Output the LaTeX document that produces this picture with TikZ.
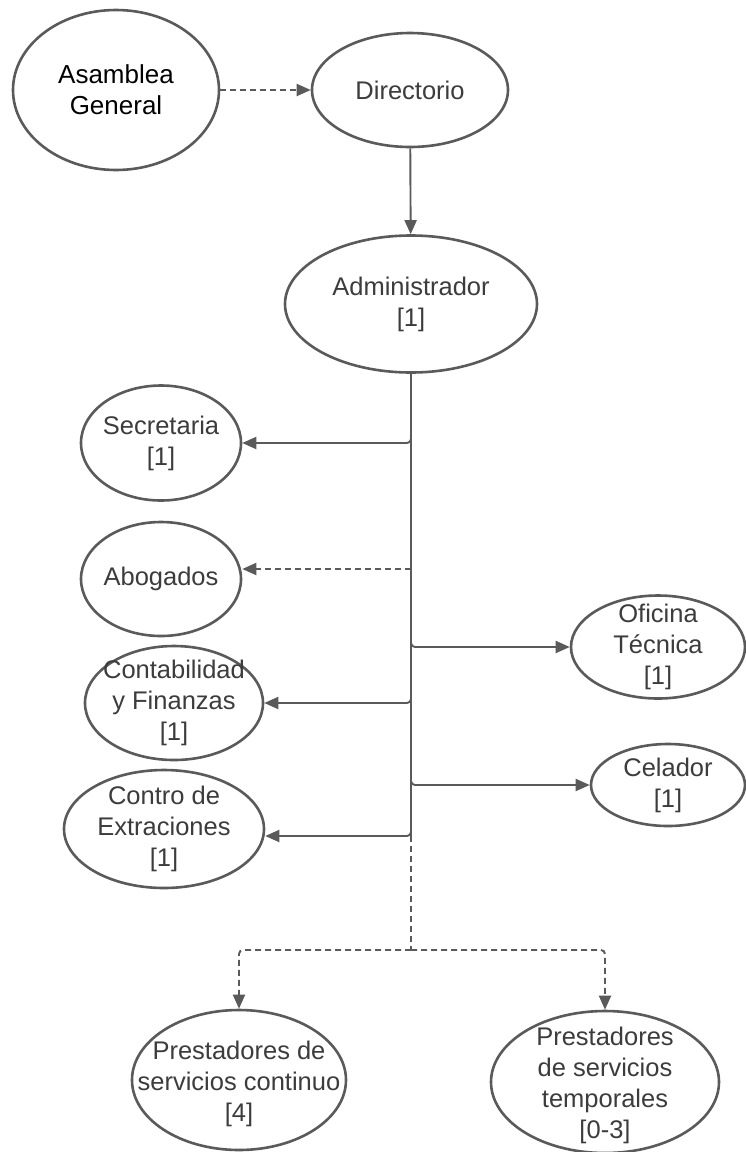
\documentclass[tikz,border=0pt]{standalone}
\usepackage{fontspec}
\setmainfont{Liberation Sans}
\usetikzlibrary{arrows.meta,shapes.geometric}
\definecolor{linegray}{HTML}{5A5A5A}
\definecolor{textgray}{HTML}{3C3C3C}
\tikzset{
  unit/.style={ellipse, draw=linegray, line width=2.6pt, inner sep=0pt},
  txt/.style={inner sep=0pt, align=center, text=textgray, font=\fontsize{25.5}{31}\selectfont},
  conn/.style={draw=linegray, line width=1.9pt, -{Triangle[length=14pt,width=12pt]}},
  dconn/.style={conn, dash pattern=on 6pt off 4pt},
}
\begin{document}
\begin{tikzpicture}[x=1pt,y=-1pt]
\useasboundingbox (0,0) rectangle (746,1152);
\fill[white] (0,0) rectangle (746,1152);
% shapes
\node[unit, minimum width=206pt, minimum height=160pt] (asam) at (116,90) {};
\node[unit, minimum width=196pt, minimum height=114pt] (dir) at (410,90) {};
\node[unit, minimum width=252pt, minimum height=137pt] (adm) at (411,304) {};
\node[unit, minimum width=160pt, minimum height=115pt] (sec) at (161,443) {};
\node[unit, minimum width=160pt, minimum height=114pt] (abo) at (161,579) {};
\node[unit, minimum width=174pt, minimum height=103pt] (ofi) at (658,647) {};
\node[unit, minimum width=178pt, minimum height=114pt] (cont) at (174,703) {};
\node[unit, minimum width=154pt, minimum height=82pt] (cel) at (668,785) {};
\node[unit, minimum width=200pt, minimum height=118pt] (contro) at (164,829) {};
\node[unit, minimum width=214pt, minimum height=140pt] (pc) at (239,1080) {};
\node[unit, minimum width=228pt, minimum height=142pt] (pt) at (605,1082) {};
% texts
\node[txt, text=black, font=\fontsize{26}{31}\selectfont] (asamT) at (asam) {Asamblea\\General};
\node[txt] (dirT) at (dir) {Directorio};
\node[txt] (admT) at (adm) {Administrador\\{[1]}};
\node[txt] (secT) at (sec) {Secretaria\\{[1]}};
\node[txt] (aboT) at (abo) {Abogados};
\node[txt] (ofiT) at (ofi) {Oficina\\T\'ecnica\\{[1]}};
\node[txt] (contT) at (cont) {Contabilidad\\y Finanzas\\{[1]}};
\node[txt] (celT) at (cel) {Celador\\{[1]}};
\node[txt] (controT) at (contro) {Contro de\\Extraciones\\{[1]}};
\node[txt] (pcT) at ([yshift=-4pt]pc.center) {Prestadores de\\servicios continuo\\{[4]}};
\node[txt] (ptT) at ([yshift=-3pt]pt.center) {Prestadores\\de servicios\\temporales\\{[0-3]}};
% coordinates on trunk
\coordinate (tabo) at (411,569);
\coordinate (tcontro) at (411,836);
\coordinate (split) at (411,950);
% connectors
\draw[dconn] (asam) -- (dir);
\draw[conn] (dir) -- (adm);
\draw[conn, rounded corners=4pt] (adm.south) |- (sec.east);
\draw[draw=linegray, line width=1.9pt] (adm.south) -- (tcontro);
\draw[dconn] (tabo) -- (tabo -| abo.east);
\draw[conn, rounded corners=4pt] (adm.south) |- (ofi.west);
\draw[conn, rounded corners=4pt] (adm.south) |- (cont.east);
\draw[conn, rounded corners=4pt] (adm.south) |- (cel.west);
\draw[conn, rounded corners=4pt] (adm.south) |- (tcontro -| contro.east);
\draw[draw=linegray, line width=1.9pt, dash pattern=on 6pt off 4pt] (tcontro) -- (split);
\draw[dconn, rounded corners=4pt] (split) -| (pc.north);
\draw[dconn, rounded corners=4pt] (split) -| (pt.north);
\end{tikzpicture}
\end{document}
